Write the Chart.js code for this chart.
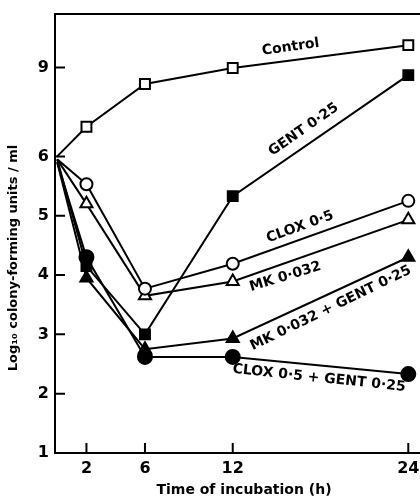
<!DOCTYPE html>
<html>
<head>
<meta charset="utf-8">
<script src="https://cdn.jsdelivr.net/npm/chart.js@4"></script>
<style>
  html, body { margin: 0; padding: 0; background: #fff; }
</style>
</head>
<body>
<canvas id="growth-chart" width="420" height="502"></canvas>
<script>
// Viable counts (log10 cfu/ml)
const hours = [0, 2, 6, 12, 24];
const control = [6.0, 7.0, 8.44, 8.98, 9.75];
const gent = [5.95, 4.15, 3.0, 5.33, 8.74];
const clox = [5.95, 5.53, 3.77, 4.19, 5.25];
const mk = [5.95, 5.2, 3.65, 3.89, 4.93];
const mkGent = [5.9, 3.95, 2.75, 2.93, 4.3];
const cloxGent = [5.9, 4.3, 2.62, 2.62, 2.33];
const xTicks = [2, 6, 12, 24];
const yTicks = [1, 2, 3, 4, 5, 6, 9];

// y axis is compressed above 6 (half scale)
function toAxis(v) {
  return v <= 6 ? v : 6 + (v - 6) / 2;
}
function fromAxis(a) {
  return a <= 6 ? a : 6 + (a - 6) * 2;
}

const FONT = '"DejaVu Sans", "Liberation Sans", Arial, sans-serif';

function series(values, style, filled, radius) {
  return {
    data: hours.map((h, i) => ({ x: h, y: toAxis(values[i]) })),
    borderColor: "#000",
    borderWidth: 2,
    pointStyle: style,
    pointRadius: hours.map((h, i) => (i === 0 ? 0 : radius)),
    pointBackgroundColor: filled ? "#000" : "#fff",
    pointBorderColor: "#000",
    pointBorderWidth: 2,
    tension: 0,
    clip: false
  };
}

// text written along the curves
const curveLabels = [
  { text: "Control", h: 15.96, v: 9.68, angle: -8 },
  { text: "GENT 0·25", h: 16.85, v: 6.9, angle: -35 },
  { text: "CLOX 0·5", h: 16.6, v: 4.81, angle: -20 },
  { text: "MK 0·032", h: 15.6, v: 3.97, angle: -17 },
  { text: "MK 0·032 + GENT 0·25", h: 18.7, v: 3.44, angle: -26 },
  { text: "CLOX 0·5 + GENT 0·25", h: 17.9, v: 2.26, angle: 6 }
];

const overlay = {
  id: "overlay",
  afterDraw(chart) {
    const { ctx, chartArea: a, scales: { x, y } } = chart;
    ctx.save();
    ctx.strokeStyle = "#000";
    ctx.lineWidth = 2;

    // top frame line
    ctx.beginPath();
    ctx.moveTo(a.left, a.top);
    ctx.lineTo(a.right, a.top);
    ctx.stroke();

    // inward tick marks
    ctx.beginPath();
    yTicks.forEach(v => {
      const py = y.getPixelForValue(toAxis(v));
      ctx.moveTo(a.left, py);
      ctx.lineTo(a.left + 10, py);
    });
    xTicks.forEach(v => {
      const px = x.getPixelForValue(v);
      ctx.moveTo(px, a.bottom);
      ctx.lineTo(px, a.bottom - 10);
    });
    ctx.stroke();

    // curve labels
    ctx.fillStyle = "#000";
    ctx.font = "bold 14px " + FONT;
    ctx.textAlign = "center";
    ctx.textBaseline = "middle";
    curveLabels.forEach(l => {
      ctx.save();
      ctx.translate(x.getPixelForValue(l.h), y.getPixelForValue(toAxis(l.v)));
      ctx.rotate(l.angle * Math.PI / 180);
      ctx.fillText(l.text, 0, 0);
      ctx.restore();
    });

    // axis titles
    ctx.font = "bold 14px " + FONT;
    ctx.fillText("Time of incubation (h)", 244, 490);
    ctx.save();
    ctx.translate(14, 258);
    ctx.rotate(-Math.PI / 2);
    ctx.font = "bold 13px " + FONT;
    ctx.fillText("Log₁₀ colony-forming units / ml", 0, 0);
    ctx.restore();

    ctx.restore();
  }
};

new Chart(document.getElementById("growth-chart").getContext("2d"), {
  type: "line",
  data: {
    datasets: [
      series(control, "rect", false, 7),
      series(gent, "rect", true, 7),
      series(clox, "circle", false, 6),
      series(mk, "triangle", false, 7),
      series(mkGent, "triangle", true, 7),
      series(cloxGent, "circle", true, 7)
    ]
  },
  options: {
    responsive: false,
    animation: false,
    layout: { autoPadding: false, padding: { top: 14, right: 0, left: 0, bottom: 0 } },
    plugins: {
      legend: { display: false },
      tooltip: { enabled: false }
    },
    scales: {
      x: {
        type: "linear",
        min: -0.15,
        max: 24.8,
        afterBuildTicks: s => { s.ticks = xTicks.map(v => ({ value: v })); },
        afterFit: s => {
          s.height = 49;
          s.paddingLeft = 0;
          s.paddingRight = 0;
        },
        grid: { display: false, drawTicks: false },
        border: { display: true, color: "#000", width: 2 },
        ticks: {
          autoSkip: false,
          maxRotation: 0,
          padding: 6,
          color: "#000",
          font: { family: FONT, size: 16, weight: "bold" },
          callback: v => v
        }
      },
      y: {
        type: "linear",
        min: 1,
        max: 8.4,
        afterBuildTicks: s => { s.ticks = yTicks.map(v => ({ value: toAxis(v) })); },
        afterFit: s => {
          s.width = 55;
          s.paddingTop = 0;
          s.paddingBottom = 0;
        },
        grid: { display: false, drawTicks: false },
        border: { display: true, color: "#000", width: 2 },
        ticks: {
          autoSkip: false,
          padding: 6,
          color: "#000",
          font: { family: FONT, size: 16, weight: "bold" },
          callback: v => Math.round(fromAxis(v))
        }
      }
    }
  },
  plugins: [overlay]
});
</script>
</body>
</html>
